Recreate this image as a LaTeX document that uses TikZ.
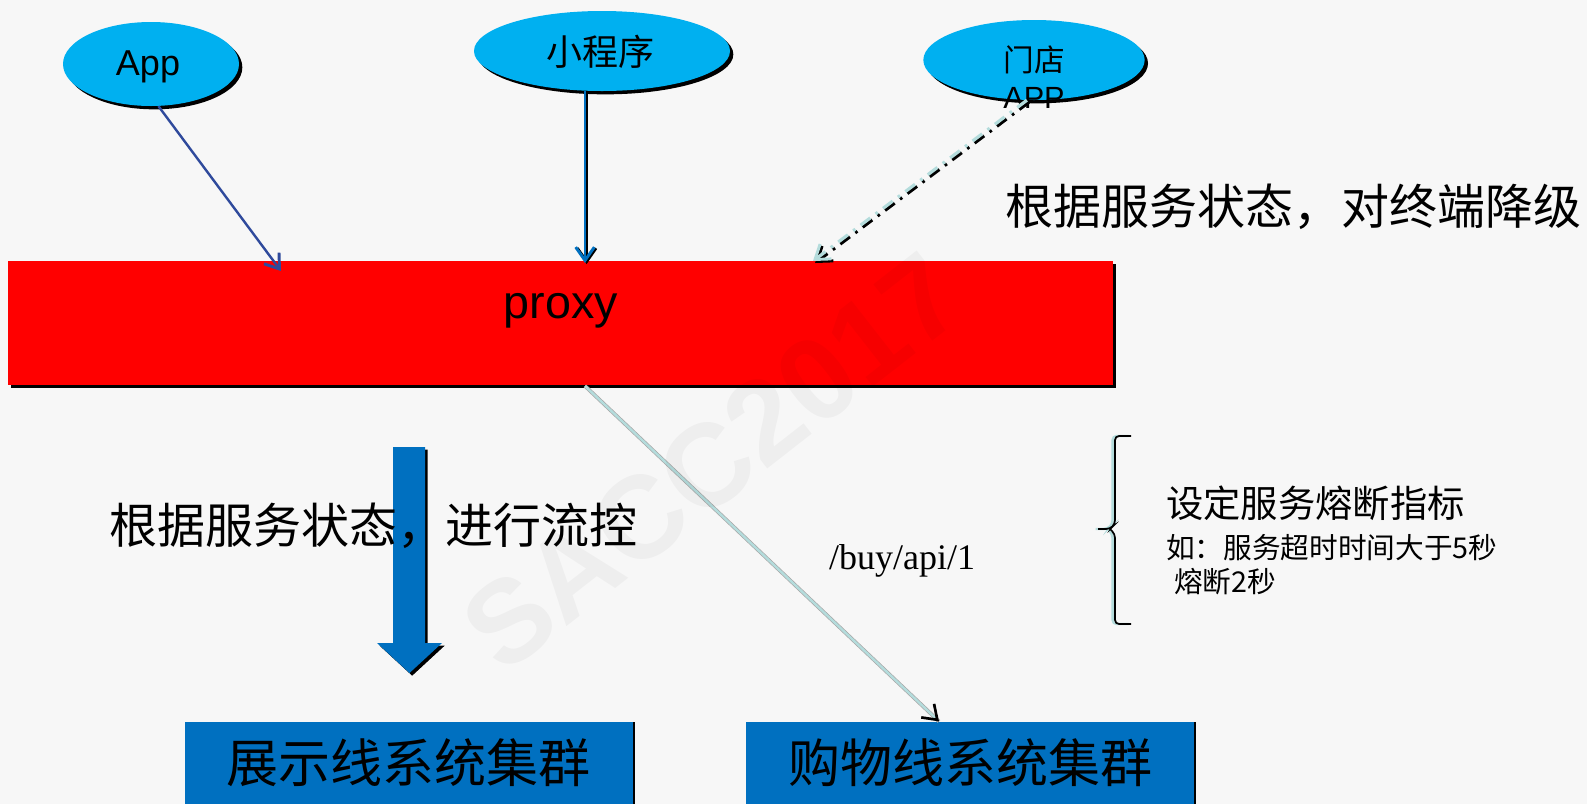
\documentclass[tikz,border=0pt]{standalone}
\usepackage{fontspec}
\setmainfont{Liberation Sans}
\newfontfamily\cjkfont{Noto Sans CJK SC}
\newfontfamily\pathfont{Liberation Serif}
\usetikzlibrary{shapes.geometric,shadows,arrows.meta}

\definecolor{bgcol}{HTML}{F7F7F7}
\definecolor{skyblue}{HTML}{00B0F0}
\definecolor{boxblue}{HTML}{0070C0}
\definecolor{navy}{HTML}{2F4A9C}
\definecolor{paleteal}{HTML}{B4DCDC}

\begin{document}
\begin{tikzpicture}[x=0.75pt,y=-0.75pt,
    client/.style={ellipse, fill=skyblue, inner sep=0pt,
      drop shadow={shadow xshift=2.5pt, shadow yshift=-2.5pt, opacity=1, fill=black}},
    cluster/.style={fill=boxblue, minimum width=336pt, minimum height=62pt, inner sep=0pt,
      font=\fontsize{39}{44}\selectfont\cjkfont,
      drop shadow={shadow xshift=1.5pt, shadow yshift=0pt, opacity=1, fill=black}},
    bigtext/.style={font=\fontsize{36}{40}\selectfont\cjkfont, anchor=west, inner sep=0pt},
    notetext/.style={font=\fontsize{21.5}{26}\selectfont\cjkfont, anchor=west, inner sep=0pt},
    chevron/.style={-{Straight Barb[length=10pt,width=14pt,line width=2.2pt]}},
  ]
    \fill[bgcol] (0,0) rectangle (1587,804);
    \useasboundingbox (0,0) rectangle (1587,804);

    % clients
    \node[client, minimum width=132pt, minimum height=63pt] (app) at (151,64) {};
    \node[font=\fontsize{27}{30}\selectfont] (apptxt) at (148,67) {App};
    \node[client, minimum width=192pt, minimum height=60pt] (mini) at (602,51) {};
    \node[font=\fontsize{27}{30}\selectfont\cjkfont] (minitxt) at (600,52) {小程序};
    \node[client, minimum width=166pt, minimum height=60pt] (store) at (1034,60) {};
    \node[font=\fontsize{23}{28}\selectfont, align=center] (storetxt) at (1034,77) {{\cjkfont 门店}\\APP};

    % proxy
    \node[fill=red, minimum width=829pt, minimum height=93pt, inner sep=0pt,
      drop shadow={shadow xshift=2pt, shadow yshift=-2pt, opacity=1, fill=black}] (proxy) at (560.5,323) {};
    \node[font=\fontsize{35}{40}\selectfont] (proxytxt) at (561,311) {proxy};

    \coordinate (inapp) at (281,271);
    \coordinate (inmini) at (585,263);
    \coordinate (instore) at (813,261);
    \coordinate (outbuy) at (585,386);

    \draw[navy, line width=1.8pt, chevron] (app.-80) -- (inapp);
    \draw[black, line width=2pt, chevron, transform canvas={shift={(1.2pt,-0.8pt)}}] (inmini |- mini.south) -- (inmini);
    \draw[boxblue, line width=2pt, chevron] (inmini |- mini.south) -- (inmini);
    \draw[black, line width=2.4pt, chevron, dash pattern=on 9pt off 5pt on 2pt off 5pt,
      transform canvas={shift={(1.5pt,-1.5pt)}}] (store.-100) -- (instore);
    \draw[paleteal, line width=2.4pt, chevron, dash pattern=on 9pt off 5pt on 2pt off 5pt] (store.-100) -- (instore);

    \node[bigtext] (degrade) at (1005,207) {根据服务状态，对终端降级};

    % big flow arrow
    \fill[boxblue, drop shadow={shadow xshift=2pt, shadow yshift=-2pt, opacity=1, fill=black}]
      (393,447) -- (425,447) -- (425,643) -- (442,643) -- (409.5,673) -- (377,643) -- (393,643) -- cycle;
    \node[bigtext] (flowctl) at (109,526) {根据服务状态，进行流控};

    % clusters
    \node[cluster] (show) at (408.5,763) {展示线系统集群};
    \node[cluster] (buy) at (970,763) {购物线系统集群};

    \draw[gray!70, line width=2.8pt] (outbuy) -- (buy.north -| 939,0);
    \draw[paleteal, line width=1.8pt, -{Straight Barb[length=10pt,width=14pt,color=black,line width=2pt]}]
      (outbuy) -- (buy.north -| 939,0);
    \node[font=\fontsize{27}{30}\selectfont\pathfont] (route) at (902,561) {/buy/api/1};

    % breaker note
    \draw[paleteal, line width=1.8pt, rounded corners=3pt, transform canvas={shift={(-1.8pt,0pt)}}]
      (1131,436) -- (1115,436) -- (1115,524) -- (1110,529) -- (1098,529);
    \draw[paleteal, line width=1.8pt, rounded corners=3pt, transform canvas={shift={(-1.8pt,0pt)}}]
      (1110,529) -- (1115,534) -- (1115,624) -- (1131,624);
    \draw[black, line width=1.3pt, rounded corners=3pt]
      (1131,436) -- (1115,436) -- (1115,524) -- (1110,529) -- (1098,529);
    \draw[black, line width=1.3pt, rounded corners=3pt]
      (1110,529) -- (1115,534) -- (1115,624) -- (1131,624);
    \node[font=\fontsize{28}{32}\selectfont\cjkfont, anchor=west, inner sep=0pt] (rule) at (1166,503) {设定服务熔断指标};
    \node[notetext] (rule1) at (1166,548) {如：服务超时时间大于5秒};
    \node[notetext] (rule2) at (1174,582) {熔断2秒};

    % watermark
    \node[rotate=38, font=\fontsize{88}{90}\selectfont\bfseries, text=black, text opacity=0.035] (mark) at (712,462) {SACC2017};
  \end{tikzpicture}
\end{document}
